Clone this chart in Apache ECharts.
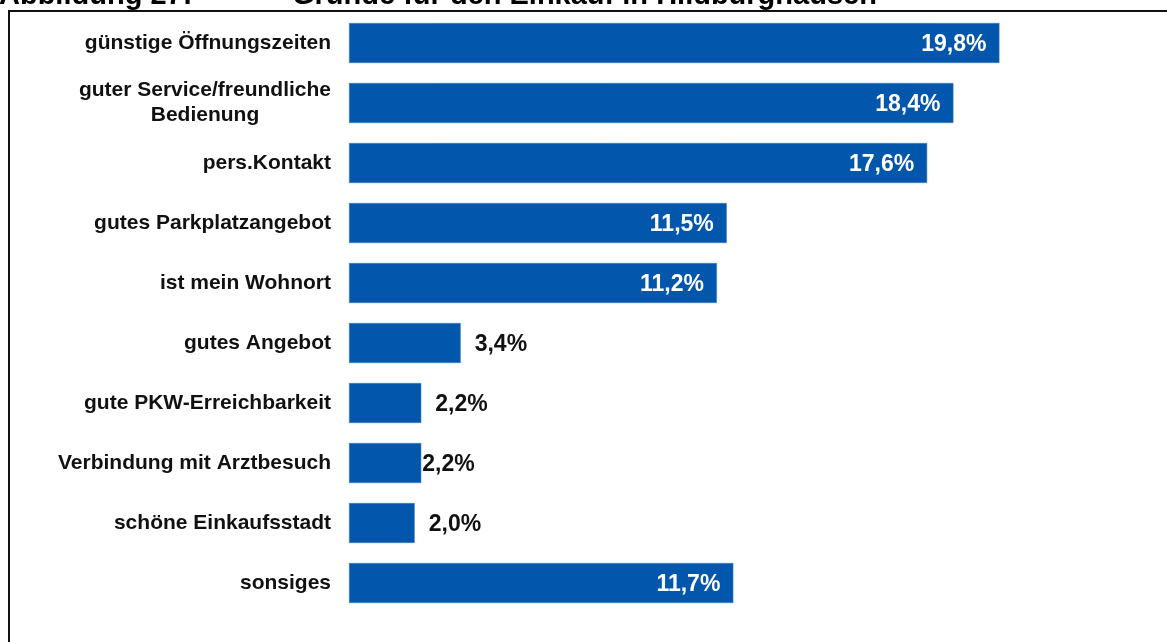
<!DOCTYPE html>
<html>
<head>
<meta charset="utf-8">
<script src="https://cdn.jsdelivr.net/npm/echarts@6/dist/echarts.min.js"></script>
<style>
  html, body { margin: 0; padding: 0; background: #ffffff; }
  #chart { width: 1167px; height: 642px; }
</style>
</head>
<body>
<div id="chart"></div>
<script>
// Gründe für den Einkauf in Hildburghausen (Anteile in %)
const categories = [
  'günstige Öffnungszeiten',
  'guter Service/freundliche\nBedienung',
  'pers.Kontakt',
  'gutes Parkplatzangebot',
  'ist mein Wohnort',
  'gutes Angebot',
  'gute PKW-Erreichbarkeit',
  'Verbindung mit Arztbesuch',
  'schöne Einkaufsstadt',
  'sonsiges'
];
const values = [19.8, 18.4, 17.6, 11.5, 11.2, 3.4, 2.2, 2.2, 2.0, 11.7];

const figureNumber = 'Abbildung 27:';
const figureTitle = 'Gründe für den Einkauf in Hildburghausen';

const BAR_COLOR = '#0256ab';
const FONT = '"Liberation Sans", Arial, sans-serif';

const fmt = v => v.toFixed(1).replace('.', ',') + '%';

// long bars carry their value inside, short bars just to the right
const seriesData = values.map((v, i) => {
  const inside = v > 5;
  return {
    value: v,
    label: {
      position: inside ? 'insideRight' : 'right',
      distance: inside ? 13 : (categories[i] === 'Verbindung mit Arztbesuch' ? 1 : 14),
      color: inside ? '#ffffff' : '#111111'
    }
  };
});

const chart = echarts.init(document.getElementById('chart'), null, { renderer: 'canvas' });

chart.setOption({
  backgroundColor: '#ffffff',
  animation: false,
  grid: { left: 349, top: 13, width: 657, height: 600, containLabel: false },
  xAxis: {
    type: 'value',
    min: 0,
    max: 20,
    show: false,
    splitLine: { show: false }
  },
  yAxis: {
    type: 'category',
    data: categories,
    inverse: true,
    axisLine: { show: false },
    axisTick: { show: false },
    axisLabel: {
      margin: 18,
      color: '#111111',
      fontFamily: FONT,
      fontWeight: 'bold',
      fontSize: 21,
      lineHeight: 25,
      formatter: label => label.indexOf('\n') >= 0
        ? label.split('\n').map(s => '{c|' + s + '}').join('\n')
        : label,
      rich: {
        c: {
          align: 'center',
          fontFamily: FONT,
          fontWeight: 'bold',
          fontSize: 21,
          lineHeight: 25,
          color: '#111111'
        }
      }
    }
  },
  series: [{
    type: 'bar',
    data: seriesData,
    barWidth: 40,
    itemStyle: { color: BAR_COLOR, borderColor: '#3d7fc4', borderWidth: 0.6 },
    label: {
      show: true,
      fontFamily: FONT,
      fontWeight: 'bold',
      fontSize: 23,
      offset: [0, 2],
      formatter: p => fmt(p.value)
    }
  }],
  graphic: [
    {
      type: 'rect',
      silent: true,
      shape: { x: 9, y: 11, width: 1300, height: 800 },
      style: { fill: 'none', stroke: '#111111', lineWidth: 2 }
    },
    {
      type: 'text',
      silent: true,
      x: -1,
      y: -4,
      style: {
        text: figureNumber,
        font: 'bold 29px ' + FONT,
        fill: '#000000',
        verticalAlign: 'middle'
      }
    },
    {
      type: 'text',
      silent: true,
      x: 292,
      y: -4,
      style: {
        text: figureTitle,
        font: 'bold 29px ' + FONT,
        fill: '#000000',
        verticalAlign: 'middle'
      }
    }
  ]
});
</script>
</body>
</html>
